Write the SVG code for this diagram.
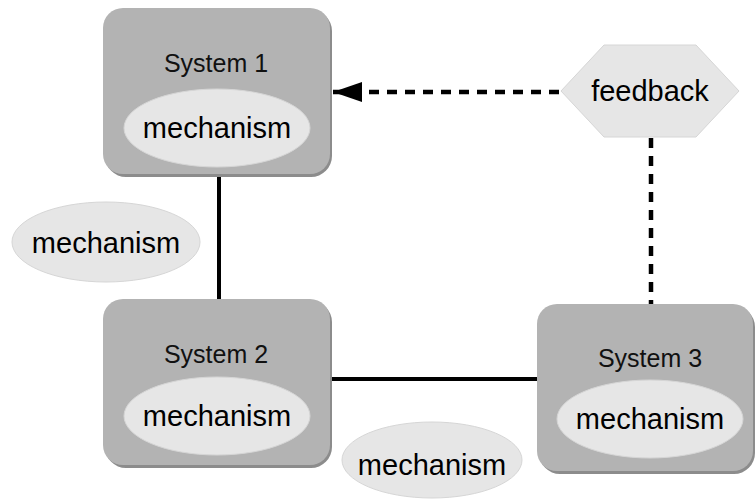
<svg xmlns="http://www.w3.org/2000/svg" width="756" height="500" viewBox="0 0 756 500">
  <defs>
    <style>
      .box { fill: #b3b3b3; }
      .shadow { fill: #8c8c8c; }
      .mech { fill: #e6e6e6; stroke: #d6d6d6; stroke-width: 1; }
      .title { font-family: "Liberation Sans", Arial, sans-serif; font-size: 25px; fill: #111; text-anchor: middle; }
      .label { font-family: "Liberation Sans", Arial, sans-serif; font-size: 29px; fill: #000; text-anchor: middle; }
      .solid { stroke: #000; stroke-width: 4; fill: none; }
      .dashed { stroke: #000; stroke-width: 4.5; fill: none; stroke-dasharray: 10 8; }
    </style>
    <marker id="arrow" markerWidth="30" markerHeight="22" refX="29" refY="11" orient="auto" markerUnits="userSpaceOnUse">
      <path d="M0,1 L29,11 L0,21 Z" fill="#000"/>
    </marker>
  </defs>
  <rect width="756" height="500" fill="#fff"/>

  <!-- connectors -->
  <g id="connectors">
    <line class="solid" x1="219" y1="175" x2="219" y2="300"/>
    <line class="solid" x1="331" y1="379" x2="538" y2="379"/>
    <line class="dashed" x1="559" y1="92" x2="333" y2="92" marker-end="url(#arrow)"/>
    <line class="dashed" x1="651" y1="138" x2="651" y2="304"/>
  </g>

  <!-- System 1 -->
  <g id="system1">
    <rect class="shadow" x="105" y="10" width="227" height="167" rx="21"/>
    <rect class="box" x="103" y="8" width="227" height="166" rx="20"/>
    <text class="title" x="216" y="72">System 1</text>
    <ellipse class="mech" cx="217" cy="128" rx="93" ry="39"/>
    <text class="label" x="217" y="138">mechanism</text>
  </g>

  <!-- System 2 -->
  <g id="system2">
    <rect class="shadow" x="105" y="301" width="227" height="167" rx="21"/>
    <rect class="box" x="103" y="299" width="227" height="166" rx="20"/>
    <text class="title" x="216" y="363">System 2</text>
    <ellipse class="mech" cx="217" cy="416" rx="93" ry="39"/>
    <text class="label" x="217" y="426">mechanism</text>
  </g>

  <!-- System 3 -->
  <g id="system3">
    <rect class="shadow" x="539" y="306" width="216" height="168" rx="21"/>
    <rect class="box" x="537" y="304" width="216" height="167" rx="20"/>
    <text class="title" x="650" y="367">System 3</text>
    <ellipse class="mech" cx="650" cy="419" rx="93" ry="39"/>
    <text class="label" x="650" y="429">mechanism</text>
  </g>

  <!-- feedback -->
  <g id="feedback">
    <polygon points="561,91 604,45 696,45 739,91 696,137 604,137" fill="#e6e6e6" stroke="#d6d6d6" stroke-width="1"/>
    <text class="label" x="650" y="101">feedback</text>
  </g>

  <!-- free mechanisms -->
  <g id="mechanism-left">
    <ellipse class="mech" cx="106" cy="242" rx="94" ry="40"/>
    <text class="label" x="106" y="253">mechanism</text>
  </g>
  <g id="mechanism-bottom">
    <ellipse class="mech" cx="432" cy="460" rx="90" ry="38"/>
    <text class="label" x="432" y="475">mechanism</text>
  </g>
</svg>
